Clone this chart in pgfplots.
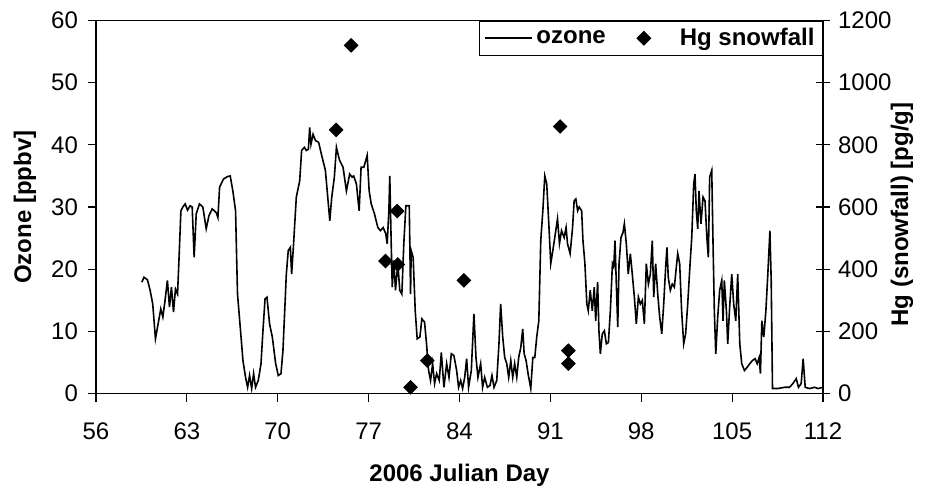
\documentclass[border=0pt]{standalone}
\usepackage{fontspec}
\setmainfont{Liberation Sans}
\usepackage{pgfplots}
\pgfplotsset{compat=1.18}
\pgfplotsset{
  myfont/.style={font=\fontsize{12}{14}\selectfont},
  ozoneimg/.style={legend image code/.code={\draw[##1] (0pt,0pt) -- (23.5pt,0pt);}},
  hgimg/.style={legend image code/.code={\path[draw=none, fill=none] (0pt,-4pt) rectangle (25pt,4pt); \draw[##1] plot coordinates {(9pt,0pt)};}},
}
\begin{document}
\begin{tikzpicture}
\begin{axis}[
  scale only axis,
  width=363.5pt, height=186.5pt,
  xmin=56, xmax=112, ymin=0, ymax=60,
  xtick={56,63,...,112}, ytick={0,10,...,60},
  xtick pos=left, ytick pos=left,
  tick align=outside, major tick length=4pt,
  axis line style={black, line width=0.6pt},
  tick style={black, line width=0.6pt},
  /pgf/number format/assume math mode=true,
  tick label style={myfont},
  xticklabel style={yshift=-7pt},
  yticklabel style={xshift=-1.5pt},
  label style={font=\bfseries\fontsize{12}{14}\selectfont},
  xlabel={2006 Julian Day},
  xlabel style={at={(axis description cs:0.5,-0.22)}, anchor=center},
  ylabel={Ozone [ppbv]},
  ylabel style={at={(axis description cs:-0.0977,0.5)}, anchor=center},
]
\addplot[black, line width=0.8pt] coordinates {
(59.53,17.9) (59.70,18.7) (59.96,18.3) (60.17,16.6) (60.37,14.4) (60.58,8.8) (60.81,11.5) (60.99,13.6)
(61.15,12.3) (61.32,15.0) (61.50,18.2) (61.66,13.9) (61.81,17.1) (61.97,13.1) (62.12,16.8) (62.28,16.0)
(62.38,20.9) (62.54,29.4) (62.69,30.0) (62.87,30.5) (63.05,29.5) (63.25,30.2) (63.41,30.0) (63.56,21.9)
(63.72,28.9) (63.97,30.5) (64.23,30.0) (64.49,26.5) (64.70,28.6) (64.95,29.7) (65.26,29.1) (65.39,28.3)
(65.52,33.2) (65.82,34.5) (66.13,34.9) (66.34,35.0) (66.54,32.6) (66.75,29.4) (66.90,16.0) (67.11,10.7)
(67.32,5.3) (67.52,2.6) (67.68,1.0) (67.83,2.9) (67.99,0.8) (68.14,3.2) (68.29,1.0) (68.50,2.1)
(68.71,4.8) (68.86,10.1) (69.02,15.2) (69.17,15.5) (69.37,11.2) (69.58,9.1) (69.84,4.8) (70.04,2.9)
(70.25,3.2) (70.40,6.9) (70.56,14.4) (70.66,19.2) (70.81,23.0) (70.97,23.5) (71.07,19.2) (71.22,24.1)
(71.43,31.6) (71.69,34.2) (71.84,39.1) (72.05,39.6) (72.20,39.1) (72.36,39.3) (72.46,42.8) (72.56,40.1)
(72.72,41.7) (72.90,40.7) (73.15,40.4) (73.42,38.0) (73.67,35.9) (73.85,31.6) (74.01,27.8) (74.16,31.6)
(74.36,34.8) (74.52,39.6) (74.70,38.0) (74.77,37.5) (75.03,36.4) (75.29,32.6) (75.54,35.3) (75.73,34.8)
(75.85,35.0) (76.06,33.7) (76.27,29.4) (76.42,36.4) (76.63,36.4) (76.89,38.3) (77.04,32.6) (77.20,30.5)
(77.45,28.9) (77.71,26.7) (77.91,26.2) (78.12,26.7) (78.32,25.7) (78.43,24.1) (78.56,29.4) (78.63,35.0)
(78.74,24.1) (78.82,17.1) (78.94,21.4) (79.07,16.6) (79.25,20.9) (79.40,16.6) (79.56,16.0) (79.71,24.1)
(79.87,30.2) (80.13,30.2) (80.23,16.0) (80.28,23.0) (80.43,21.9) (80.59,13.3) (80.74,8.8) (80.95,9.1)
(81.10,12.0) (81.31,11.5) (81.46,8.0) (81.62,3.7) (81.77,2.1) (81.93,4.8) (82.08,1.6) (82.24,3.2)
(82.44,2.1) (82.60,6.6) (82.80,1.0) (83.01,4.8) (83.19,2.6) (83.37,6.4) (83.57,6.1) (83.78,3.7)
(83.93,1.0) (84.09,2.1) (84.24,0.8) (84.40,2.6) (84.55,5.6) (84.70,1.0) (84.91,3.7) (85.11,12.8)
(85.27,5.8) (85.42,2.6) (85.63,4.8) (85.78,1.0) (85.94,2.6) (86.15,1.0) (86.35,1.3) (86.50,2.9)
(86.66,1.0) (86.87,2.1) (87.04,8.0) (87.17,14.4) (87.33,9.1) (87.48,5.8) (87.64,4.8) (87.79,2.6)
(87.95,5.3) (88.10,2.6) (88.25,4.8) (88.41,2.6) (88.56,5.8) (88.72,7.4) (88.87,10.4) (88.98,6.4)
(89.13,5.3) (89.28,3.2) (89.49,0.8) (89.65,5.8) (89.80,5.8) (89.95,9.1) (90.11,11.7) (90.26,24.6)
(90.42,29.4) (90.57,35.0) (90.72,33.7) (90.88,27.3) (91.03,20.9) (91.19,23.0) (91.34,25.1) (91.55,28.1)
(91.70,24.1) (91.86,26.2) (92.06,25.1) (92.21,26.7) (92.32,24.1) (92.52,22.5) (92.71,26.7) (92.83,31.0)
(92.96,31.3) (93.10,29.4) (93.22,30.0) (93.41,29.4) (93.51,24.6) (93.66,20.9) (93.81,14.4) (93.92,13.3)
(94.07,16.6) (94.23,13.3) (94.38,17.1) (94.49,11.7) (94.64,17.9) (94.74,10.1) (94.85,6.4) (95.00,9.6)
(95.16,10.1) (95.31,8.0) (95.47,8.2) (95.62,13.3) (95.78,20.9) (95.88,20.4) (95.98,24.6) (96.08,17.6)
(96.19,10.7) (96.29,20.9) (96.44,25.1) (96.59,25.9) (96.70,27.3) (96.85,24.1) (97.00,19.2) (97.16,22.5)
(97.31,19.2) (97.47,15.5) (97.62,11.2) (97.78,15.5) (97.93,14.4) (98.08,15.0) (98.24,11.2) (98.39,20.9)
(98.55,17.6) (98.70,19.2) (98.85,24.6) (98.96,15.5) (99.11,20.9) (99.27,16.0) (99.42,12.3) (99.58,9.6)
(99.73,14.4) (99.88,20.3) (99.98,23.5) (100.08,18.7) (100.24,16.6) (100.39,17.6) (100.55,17.1) (100.70,20.3)
(100.81,22.5) (100.96,20.9) (101.11,13.3) (101.27,8.0) (101.42,9.6) (101.58,14.4) (101.73,19.8) (101.89,25.1)
(102.04,33.7) (102.14,35.3) (102.24,29.4) (102.35,26.5) (102.45,32.6) (102.60,27.3) (102.76,31.6) (102.91,31.0)
(103.07,24.6) (103.17,21.9) (103.27,34.8) (103.43,35.9) (103.53,24.1) (103.63,13.3) (103.74,6.4) (103.89,12.3)
(104.04,16.6) (104.20,18.2) (104.30,11.7) (104.40,18.2) (104.56,13.3) (104.66,8.0) (104.81,13.9) (104.97,19.2)
(105.12,14.4) (105.28,11.7) (105.43,19.2) (105.59,8.0) (105.74,4.8) (105.95,3.7) (106.15,4.2) (106.36,4.8)
(106.56,5.3) (106.77,5.6) (106.93,4.8) (107.08,5.8) (107.18,3.2) (107.29,11.7) (107.44,9.1) (107.60,13.3)
(107.75,19.2) (107.91,26.2) (108.01,18.2) (108.11,0.8) (108.52,0.8) (109.04,1.0) (109.42,1.0) (109.68,1.6)
(109.94,2.4) (110.11,1.0) (110.32,1.6) (110.47,5.6) (110.63,1.0) (110.96,0.8) (111.35,1.0) (111.61,0.8)
(112.00,1.0)
};
\end{axis}
\begin{axis}[
  scale only axis,
  width=363.5pt, height=186.5pt,
  xmin=56, xmax=112, ymin=0, ymax=1200,
  axis x line=none, axis y line*=right,
  ytick={0,200,...,1200},
  ytick align=center, major tick length=7pt,
  axis line style={black, line width=0.6pt, -},
  tick style={black, line width=0.6pt},
  /pgf/number format/assume math mode=true,
  /pgf/number format/1000 sep={},
  tick label style={myfont},
  yticklabel style={xshift=0.5pt},
  ylabel={Hg (snowfall) [pg/g]},
  ylabel style={font=\bfseries\fontsize{12}{14}\selectfont, at={(axis description cs:1.1087,0.48)}, anchor=center, rotate=0},
  legend columns=2,
  legend style={at={(1,1)}, anchor=north east, draw=black, line width=0.5pt, fill=white,
    font=\bfseries\fontsize{12}{14}\selectfont, inner xsep=2pt, inner ysep=1.5pt,
    /tikz/every even column/.append style={column sep=8pt}},
]
\addlegendimage{black, line width=0.8pt, ozoneimg}
\addlegendentry{ozone}
\addplot[only marks, mark=square*, mark size=2.4pt, mark options={rotate=45, fill=black, draw=black}, hgimg] coordinates {
(74.50,848) (75.65,1120) (78.30,426) (79.20,587) (79.25,415) (80.23,20) (81.52,106) (84.34,364) (91.75,859) (92.39,138) (92.39,96)
};
\addlegendentry{Hg snowfall}
\end{axis}
\pgfresetboundingbox
\path[use as bounding box] (-48pt,-48pt) rectangle (416.5pt,196.75pt);
\end{tikzpicture}
\end{document}
